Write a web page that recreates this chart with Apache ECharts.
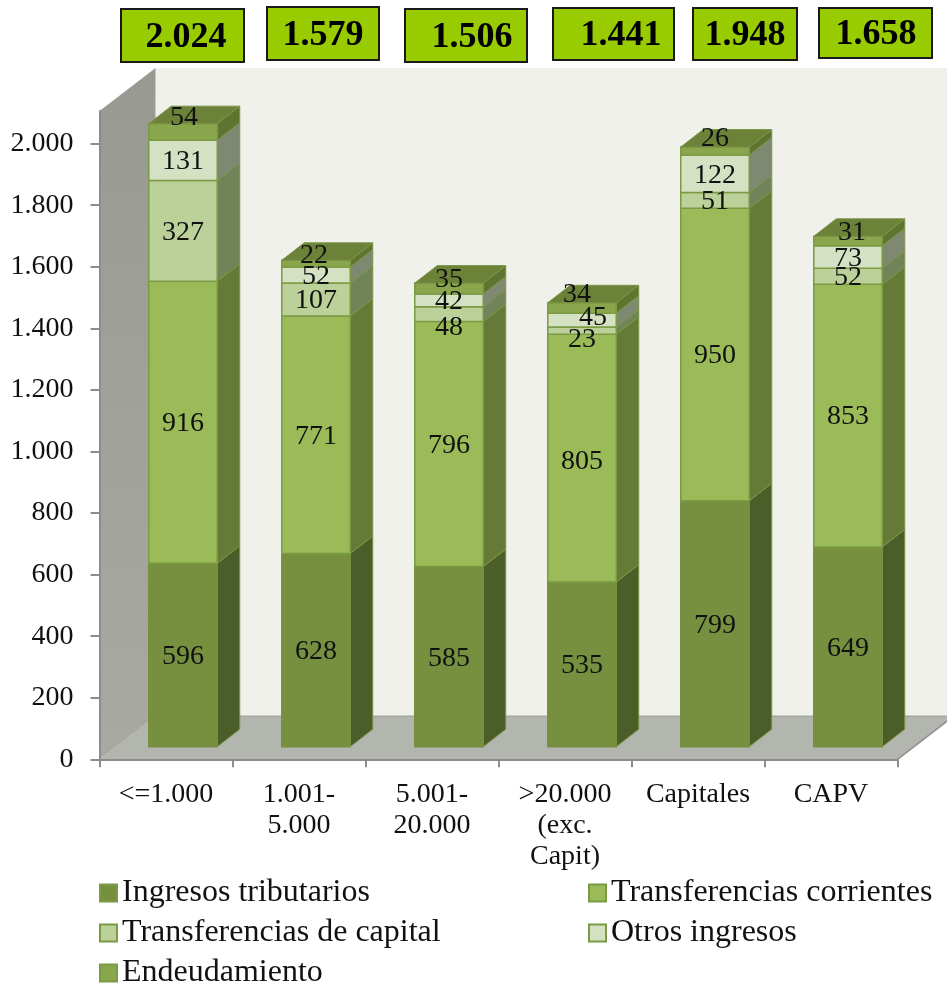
<!DOCTYPE html>
<html lang="es">
<head>
    <meta charset="utf-8">
    <title>Ingresos por estrato</title>
    <script src="https://cdn.jsdelivr.net/npm/echarts@6/dist/echarts.min.js"></script>
    <style>
        html, body { margin: 0; padding: 0; background: #fff; }
        #main { width: 947px; height: 985px; }
    </style>
</head>
<body>
<div id="main"></div>
<script type="text/javascript">
    var categories = ['<=1.000', '1.001-\n5.000', '5.001-\n20.000', '>20.000\n(exc.\nCapit)', 'Capitales', 'CAPV'];
    var tributarios = [596, 628, 585, 535, 799, 649];
    var corrientes = [916, 771, 796, 805, 950, 853];
    var capital = [327, 107, 48, 23, 51, 52];
    var otros = [131, 52, 42, 45, 122, 73];
    var endeudamiento = [54, 22, 35, 34, 26, 31];
    var totals = [2024, 1579, 1506, 1441, 1948, 1658];
    var yTicks = [0, 200, 400, 600, 800, 1000, 1200, 1400, 1600, 1800, 2000];

    // estilo de cada tramo: frente, lateral, borde
    var stackSeries = [
        {name: 'Ingresos tributarios', values: tributarios, color: '#76903f', side: '#4b5e29', border: '#76903f'},
        {name: 'Transferencias corrientes', values: corrientes, color: '#9bbb59', side: '#647a36', border: '#7b9a44'},
        {name: 'Transferencias de capital', values: capital, color: '#bcd09a', side: '#708359', border: '#7b9a44'},
        {name: 'Otros ingresos', values: otros, color: '#d4e1c3', side: '#7f8971', border: '#7b9a44'},
        {name: 'Endeudamiento', values: endeudamiento, color: '#8aa64c', side: '#5f7431', border: '#7b9a44'}
    ];

    // etiquetas movidas a mano en el original: "categoria,tramo" -> [dx, dy]
    var labelNudge = {
        '0,4': [1, -16], '1,4': [-2, -10], '2,2': [0, 12], '2,4': [0, -10], '3,1': [0, 2],
        '3,2': [0, 7], '3,3': [11, -4], '3,4': [-5, -15], '4,4': [0, -14], '5,4': [4, -10]
    };

    // cajas verdes de totales, a mano como en el original
    var totalBoxes = [
        [121, 9, 123, 53, 186],
        [267, 7, 112, 53, 323],
        [405, 9, 122, 53, 472],
        [553, 8, 121, 52, 621],
        [693, 8, 104, 52, 745],
        [819, 8, 113, 50, 876]
    ];

    var DEPTH_X = 56, DEPTH_Y = 43;      // fondo de la caja 3D
    var BAR_W = 68.5, BAR_DX = 17, BAR_DY = 12.6;   // frente de la barra respecto al eje
    var SIDE_X = 22.5, SIDE_Y = 17.5;    // lateral de la barra

    function fmt(v) {
        return String(v).replace(/\B(?=(\d{3})+$)/g, '.');
    }

    function poly(points, fill, stroke, lineWidth) {
        return {
            type: 'polygon',
            shape: {points: points},
            style: {fill: fill, stroke: stroke || null, lineWidth: lineWidth || 0}
        };
    }

    function renderBackdrop(params) {
        var c = params.coordSys;
        var l = c.x, r = c.x + c.width, t = c.y, b = c.y + c.height;
        return {
            type: 'group',
            children: [
                poly([[l + DEPTH_X, t - DEPTH_Y], [r + DEPTH_X, t - DEPTH_Y], [r + DEPTH_X, b - DEPTH_Y], [l + DEPTH_X, b - DEPTH_Y]], '#eff1ea'),
                {
                    type: 'polygon',
                    shape: {points: [[l, t], [l + DEPTH_X, t - DEPTH_Y], [l + DEPTH_X, b - DEPTH_Y], [l, b]]},
                    style: {
                        fill: new echarts.graphic.LinearGradient(0, 0, 0, 1, [
                            {offset: 0, color: '#989a92'},
                            {offset: 1, color: '#a8a9a3'}
                        ])
                    }
                },
                poly([[l, b], [l + DEPTH_X, b - DEPTH_Y], [r + DEPTH_X, b - DEPTH_Y], [r, b]], '#b3b6af'),
                {
                    type: 'line',
                    shape: {x1: l + DEPTH_X, y1: b - DEPTH_Y, x2: r + DEPTH_X, y2: b - DEPTH_Y},
                    style: {stroke: '#a3a59e', lineWidth: 1.5}
                },
                {
                    type: 'line',
                    shape: {x1: r, y1: b, x2: r + DEPTH_X, y2: b - DEPTH_Y},
                    style: {stroke: '#8f8f8f', lineWidth: 1.5}
                },
                {
                    type: 'line',
                    shape: {x1: l, y1: b, x2: l + DEPTH_X, y2: b - DEPTH_Y},
                    style: {stroke: '#b4b5af', lineWidth: 1}
                }
            ]
        };
    }

    function makeRenderer(serieIndex) {
        var s = stackSeries[serieIndex];
        var isTop = serieIndex === stackSeries.length - 1;
        return function (params, api) {
            var cat = api.value(0);
            var x = api.coord([cat, 0])[0] + BAR_DX - BAR_W / 2;
            var yLow = api.coord([cat, api.value(1)])[1] - BAR_DY;
            var yHigh = api.coord([cat, api.value(2)])[1] - BAR_DY;
            var xr = x + BAR_W;
            var children = [
                poly([[xr, yLow], [xr + SIDE_X, yLow - SIDE_Y], [xr + SIDE_X, yHigh - SIDE_Y], [xr, yHigh]], s.side, '#7b9546', 1),
                poly([[x, yLow], [xr, yLow], [xr, yHigh], [x, yHigh]], s.color, s.border, 1.5)
            ];
            if (isTop) {
                children.push(poly([[x, yHigh], [x + SIDE_X, yHigh - SIDE_Y], [xr + SIDE_X, yHigh - SIDE_Y], [xr, yHigh]], '#6c8239', '#7b9546', 1));
            }
            var nudge = labelNudge[cat + ',' + serieIndex] || [0, 0];
            children.push({
                type: 'text',
                z2: 100,
                x: x + BAR_W / 2 + nudge[0],
                y: (yLow + yHigh) / 2 + nudge[1] + 1.5,
                style: {
                    text: String(api.value(3)),
                    fill: '#111',
                    font: '28px "Liberation Serif"',
                    align: 'center',
                    verticalAlign: 'middle'
                }
            });
            return {type: 'group', children: children};
        };
    }

    function buildSeries() {
        var list = [{
            type: 'custom',
            name: 'fondo',
            z: 1,
            silent: true,
            data: [[0, 0]],
            renderItem: renderBackdrop
        }];
        var base = categories.map(function () { return 0; });
        stackSeries.forEach(function (s, k) {
            var rows = s.values.map(function (v, i) {
                var row = [i, base[i], base[i] + v, v];
                base[i] += v;
                return row;
            });
            list.push({
                type: 'custom',
                name: s.name,
                z: 2,
                silent: true,
                itemStyle: {color: s.color, borderColor: '#7b9a44', borderWidth: 1},
                encode: {x: 0, y: 2},
                data: rows,
                renderItem: makeRenderer(k)
            });
        });
        return list;
    }

    function buildGraphic() {
        var items = [];
        totalBoxes.forEach(function (b, i) {
            items.push({
                type: 'rect',
                shape: {x: b[0], y: b[1], width: b[2], height: b[3]},
                style: {fill: '#99cc00', stroke: '#1a1a1a', lineWidth: 2}
            });
            items.push({
                type: 'text',
                x: b[4],
                y: b[1] + b[3] / 2 + 2,
                style: {
                    text: fmt(totals[i]),
                    fill: '#000',
                    font: 'bold 36px "Liberation Serif"',
                    align: 'center',
                    verticalAlign: 'middle'
                }
            });
        });
        return items;
    }

    var legendText = {fontFamily: 'Liberation Serif', fontSize: 32, color: '#111'};

    var myChart = echarts.init(document.getElementById('main'));
    myChart.setOption({
        animation: false,
        backgroundColor: '#fff',
        grid: {left: 99.5, top: 111, width: 798, height: 648.3},
        xAxis: {
            type: 'category',
            data: categories,
            z: 5,
            axisLine: {lineStyle: {color: '#8c8c8c', width: 2}},
            axisTick: {show: true, length: 8, alignWithLabel: false, lineStyle: {color: '#8c8c8c', width: 2}},
            axisLabel: {
                interval: 0,
                margin: 20,
                fontFamily: 'Liberation Serif',
                fontSize: 28,
                lineHeight: 31,
                color: '#111'
            }
        },
        yAxis: {
            type: 'value',
            min: 0,
            max: 2106,
            interval: 200,
            z: 5,
            splitLine: {show: false},
            axisLine: {show: true, lineStyle: {color: '#8c8c8c', width: 2}},
            axisTick: {show: true, length: 9, customValues: yTicks, lineStyle: {color: '#8c8c8c', width: 2}},
            axisLabel: {
                customValues: yTicks,
                margin: 26,
                padding: [3, 0, 0, 0],
                fontFamily: 'Liberation Serif',
                fontSize: 28,
                color: '#111',
                formatter: function (v) { return fmt(v); }
            }
        },
        legend: [
            {
                data: ['Ingresos tributarios', 'Transferencias de capital', 'Endeudamiento'],
                orient: 'vertical',
                left: 94,
                top: 872,
                height: 130,
                itemWidth: 17,
                itemHeight: 17,
                itemGap: 8,
                icon: 'rect',
                selectedMode: false,
                textStyle: legendText
            },
            {
                data: ['Transferencias corrientes', 'Otros ingresos'],
                orient: 'vertical',
                left: 583,
                top: 872,
                height: 130,
                itemWidth: 17,
                itemHeight: 17,
                itemGap: 8,
                icon: 'rect',
                selectedMode: false,
                textStyle: legendText
            }
        ],
        series: buildSeries(),
        graphic: {elements: buildGraphic()}
    });
</script>
</body>
</html>
